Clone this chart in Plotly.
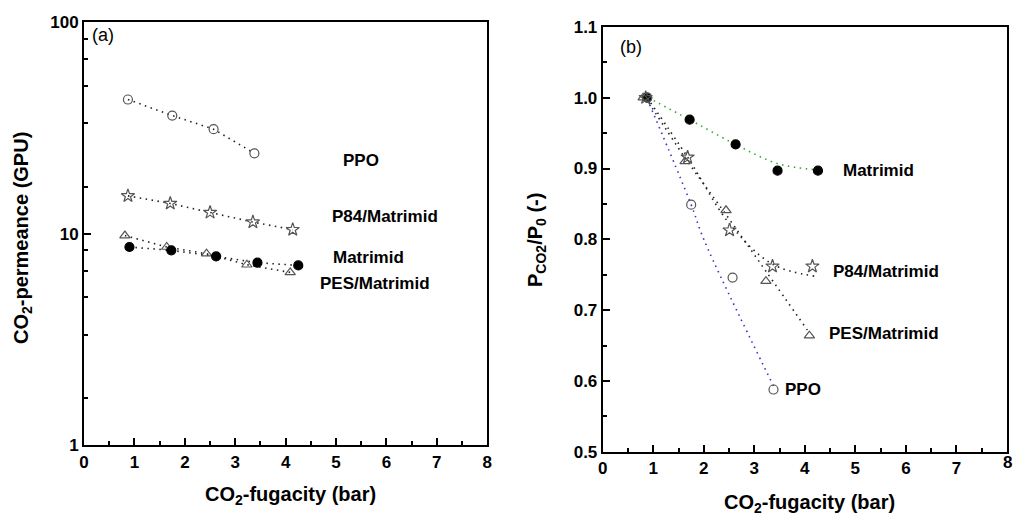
import math
import plotly.graph_objects as go

# ---------------- data: panel (a) ----------------
ppo_x = [0.87, 1.75, 2.57, 3.38]
ppo_y = [43.1, 36.2, 31.2, 24.0]
p84_x = [0.87, 1.71, 2.50, 3.35, 4.14]
p84_y = [15.1, 13.9, 12.6, 11.35, 10.45]
pes_x = [0.81, 1.64, 2.43, 3.23, 4.09]
pes_y = [9.8, 8.65, 8.04, 7.13, 6.56]
mat_x = [0.90, 1.73, 2.62, 3.44, 4.25]
mat_y = [8.65, 8.34, 7.81, 7.29, 7.08]

# ---------------- data: panel (b) ----------------
b_mat_x = [0.88, 1.72, 2.63, 3.46, 4.26]
b_mat_y = [1.0, 0.969, 0.934, 0.897, 0.897]
b_p84_x = [0.85, 1.68, 2.51, 3.36, 4.15]
b_p84_y = [1.0, 0.916, 0.813, 0.762, 0.762]
b_pes_x = [0.80, 1.63, 2.44, 3.23, 4.09]
b_pes_y = [1.0, 0.910, 0.841, 0.741, 0.664]
b_ppo_x = [0.88, 1.75, 2.57, 3.38]
b_ppo_y = [1.0, 0.849, 0.746, 0.588]

# trend (fit) lines of panel (b)
fit_mat_x = [0.9, 1.72, 2.63, 3.46, 4.26]
fit_mat_y = [1.0, 0.969, 0.934, 0.907, 0.898]
fit_p84_x = [0.88, 1.68, 2.51, 3.36, 4.2]
fit_p84_y = [1.0, 0.916, 0.822, 0.765, 0.748]
fit_pes_x = [0.85, 1.63, 2.44, 3.23, 4.05]
fit_pes_y = [1.0, 0.915, 0.835, 0.755, 0.672]
fit_ppo_x = [0.93, 1.75, 2.0, 3.38]
fit_ppo_y = [0.99, 0.849, 0.80, 0.593]

x_ticks = [0, 1, 2, 3, 4, 5, 6, 7, 8]
x_tick_text = ["0", "1", "2", "3", "4", "5", "6", "7", "8"]
x_minor = [0.5, 1.5, 2.5, 3.5, 4.5, 5.5, 6.5, 7.5]
a_y_ticks = [1, 10, 100]
a_y_minor = [1.667, 3.333, 5, 6.667, 8.333, 16.67, 33.33, 50, 66.67, 83.33]
b_y_ticks = [0.5, 0.6, 0.7, 0.8, 0.9, 1.0, 1.1]
b_y_minor = [0.55, 0.65, 0.75, 0.85, 0.95, 1.05]

FONT = "Liberation Sans, Arial, sans-serif"
GREY = "#555555"
DOT = "1.5px,4.5px"

fig = go.Figure()

def line(x, y, xa, ya, color="#222222", shape="linear"):
    fig.add_trace(go.Scatter(x=x, y=y, mode="lines", xaxis=xa, yaxis=ya,
                             line=dict(color=color, width=1.6, dash=DOT, shape=shape),
                             showlegend=False, hoverinfo="skip"))

def pts(x, y, xa, ya, symbol, filled=False, size=9):
    fig.add_trace(go.Scatter(x=x, y=y, mode="markers", xaxis=xa, yaxis=ya,
                             marker=dict(symbol=symbol, size=size,
                                         color="black" if filled else GREY,
                                         line=dict(color="black" if filled else GREY, width=1.2)),
                             showlegend=False))

# panel (a)
line(ppo_x, ppo_y, "x", "y")
line(p84_x, p84_y, "x", "y")
line(pes_x, pes_y, "x", "y")
line(mat_x, mat_y, "x", "y")
pts(ppo_x, ppo_y, "x", "y", "circle-open", size=9)
pts(p84_x, p84_y, "x", "y", "star-open", size=10)
pts(pes_x, pes_y, "x", "y", "triangle-up-open", size=9)
pts(mat_x, mat_y, "x", "y", "circle", filled=True, size=9)

# panel (b)
line(fit_mat_x, fit_mat_y, "x2", "y2", color="#33aa33", shape="spline")
line(fit_p84_x, fit_p84_y, "x2", "y2", shape="spline")
line(fit_pes_x, fit_pes_y, "x2", "y2", shape="spline")
line(fit_ppo_x, fit_ppo_y, "x2", "y2", color="#3333cc", shape="spline")
pts(b_mat_x, b_mat_y, "x2", "y2", "circle", filled=True, size=9)
pts(b_p84_x, b_p84_y, "x2", "y2", "star-open", size=10)
pts(b_pes_x, b_pes_y, "x2", "y2", "triangle-up-open", size=9)
pts(b_ppo_x, b_ppo_y, "x2", "y2", "circle-open", size=9)

tickfont = dict(family=FONT, size=17, color="black", weight="bold")
minor_common = dict(ticks="inside", ticklen=4, tickwidth=2, tickcolor="black")
axis_common = dict(showline=True, linecolor="black", linewidth=2, mirror=True,
                   ticks="inside", ticklen=7, tickwidth=2, tickcolor="black",
                   showgrid=False, zeroline=False, tickfont=tickfont, automargin=False)

fig.update_layout(
    width=1013, height=517,
    margin=dict(l=0, r=0, t=0, b=0, autoexpand=False),
    paper_bgcolor="white", plot_bgcolor="white",
    xaxis=dict(domain=[0.083, 0.481], range=[0, 8], tickvals=x_ticks, ticktext=x_tick_text,
               minor=dict(tickvals=x_minor, **minor_common),
               anchor="y", **axis_common),
    yaxis=dict(domain=[0.139, 0.957], type="log", range=[0, 2], tickvals=a_y_ticks,
               ticktext=["1", "10", "100"],
               minor=dict(tickvals=a_y_minor, **minor_common),
               anchor="x", **axis_common),
    xaxis2=dict(domain=[0.595, 0.994], range=[0, 8], tickvals=x_ticks,
                ticktext=x_tick_text[:-1] + [""],
                minor=dict(tickvals=x_minor, **minor_common),
                anchor="y2", **axis_common),
    yaxis2=dict(domain=[0.126, 0.948], range=[0.5, 1.1], tickvals=b_y_ticks,
                ticktext=["0.5", "0.6", "0.7", "0.8", "0.9", "1.0", "1.1"],
                minor=dict(tickvals=b_y_minor, **minor_common),
                anchor="x2", **axis_common),
)

lab = dict(family=FONT, size=17, color="black", weight="bold")
ann = []
def text(x, y, t, xref, yref, font=lab, xanchor="center", **kw):
    ann.append(dict(x=x, y=y, text=t, xref=xref, yref=yref, showarrow=False,
                    font=font, xanchor=xanchor, yanchor="middle", **kw))

plain = dict(family=FONT, size=18, color="black")
# panel (a) labels
text(0.12, math.log10(87), "(a)", "x", "y", font=plain, xanchor="left")
text(5.5, math.log10(22.2), "PPO", "x", "y")
text(5.97, math.log10(12.0), "P84/Matrimid", "x", "y")
text(5.64, math.log10(7.75), "Matrimid", "x", "y")
text(5.78, math.log10(5.8), "PES/Matrimid", "x", "y")
# panel (b) labels
text(0.3, 1.0715, "(b)", "x2", "y2", font=plain, xanchor="left")
text(5.45, 0.897, "Matrimid", "x2", "y2")
text(5.6, 0.755, "P84/Matrimid", "x2", "y2")
text(5.56, 0.667, "PES/Matrimid", "x2", "y2")
text(3.96, 0.588, "PPO", "x2", "y2")
# last x tick label of panel (b), at the page edge as in the reference
ann.append(dict(x=1.0, y=1 - 462 / 517, text=x_tick_text[-1], xref="paper", yref="paper",
                showarrow=False, font=tickfont, xanchor="right", yanchor="middle",
                borderpad=0))

tfont = dict(family=FONT, size=20, color="black", weight="bold")
# axis titles (paper coords)
text(290 / 1013, 1 - 495 / 517, "CO<sub>2</sub>-fugacity (bar)", "paper", "paper", font=tfont)
text(809 / 1013, 1 - 503 / 517, "CO<sub>2</sub>-fugacity (bar)", "paper", "paper", font=tfont)
text(22 / 1013, 1 - 238 / 517, "CO<sub>2</sub>-permeance (GPU)", "paper", "paper", font=tfont, textangle=-90)
text(537 / 1013, 1 - 240 / 517, "P<sub>CO2</sub>/P<sub>0</sub> (-)", "paper", "paper", font=tfont, textangle=-90)

fig.update_layout(annotations=ann)
fig.write_html("out.html", config={"displayModeBar": False},
               post_script="document.body.style.margin='0';document.body.style.overflow='hidden';")
